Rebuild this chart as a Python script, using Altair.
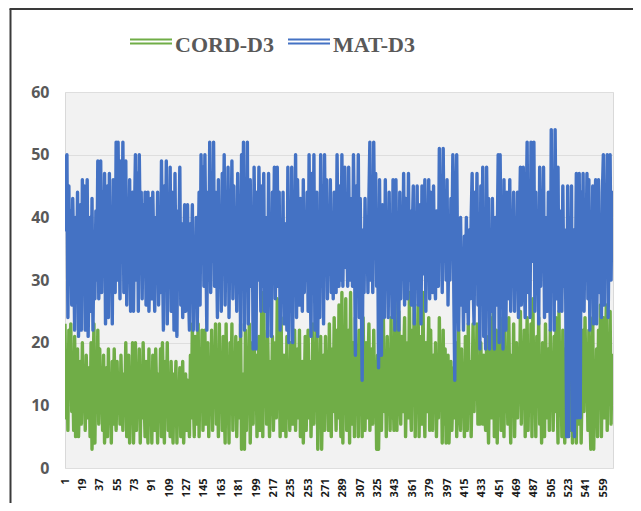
import altair as alt
import pandas as pd

series_names = ["CORD-D3", "MAT-D3"]
series_colors = ["#70AD47", "#4472C4"]

cord_d3 = [
    23, 8, 18, 6, 22, 12, 23, 9, 15, 6, 21, 5, 14, 19, 5, 11, 17, 7,
    20, 10, 15, 6, 18, 12, 8, 16, 5, 20, 3, 13, 23, 4, 18, 9, 22, 7,
    19, 10, 14, 6, 18, 4, 12, 16, 5, 19, 8, 13, 4, 17, 7, 19, 11, 6,
    17, 9, 14, 7, 18, 11, 6, 15, 10, 20, 5, 13, 18, 4, 15, 9, 20, 4,
    12, 20, 6, 16, 10, 19, 4, 14, 8, 20, 11, 5, 17, 9, 4, 19, 7, 14,
    4, 18, 10, 6, 19, 12, 4, 15, 8, 19, 5, 20, 12, 4, 17, 9, 20, 6,
    14, 5, 17, 9, 4, 15, 11, 17, 4, 13, 8, 16, 5, 12, 17, 4, 10, 15,
    6, 14, 9, 5, 18, 8, 23, 11, 5, 21, 7, 16, 23, 5, 19, 10, 22, 6,
    15, 22, 7, 11, 20, 5, 16, 9, 22, 6, 18, 12, 23, 7, 15, 5, 23, 9,
    17, 6, 21, 10, 4, 23, 8, 14, 4, 20, 11, 23, 6, 16, 9, 21, 5, 13,
    20, 8, 23, 3, 15, 10, 3, 22, 6, 17, 11, 23, 4, 14, 20, 7, 23, 10,
    18, 5, 14, 21, 6, 12, 28, 5, 26, 10, 19, 7, 22, 12, 5, 17, 9, 21,
    6, 14, 20, 8, 27, 11, 16, 5, 24, 10, 6, 18, 13, 5, 21, 8, 15, 6,
    20, 11, 7, 18, 22, 6, 13, 19, 8, 22, 5, 14, 17, 4, 12, 21, 6, 15,
    22, 8, 17, 5, 13, 23, 7, 19, 10, 24, 3, 15, 9, 21, 3, 12, 18, 6,
    21, 10, 16, 6, 23, 12, 5, 19, 9, 24, 14, 6, 22, 8, 26, 11, 5, 28,
    4, 18, 10, 27, 6, 15, 22, 4, 28, 12, 7, 20, 5, 24, 11, 17, 5, 22,
    9, 18, 5, 24, 12, 6, 20, 8, 15, 23, 6, 13, 19, 7, 22, 10, 16, 3,
    18, 3, 12, 22, 6, 15, 24, 9, 18, 5, 21, 11, 16, 6, 24, 8, 13, 6,
    27, 10, 6, 19, 25, 12, 7, 21, 9, 17, 24, 5, 14, 20, 8, 28, 11, 6,
    22, 13, 28, 5, 18, 10, 26, 5, 15, 21, 7, 28, 12, 5, 20, 9, 16, 24,
    6, 22, 11, 6, 18, 9, 20, 5, 14, 8, 24, 12, 17, 4, 22, 7, 19, 4,
    13, 18, 4, 10, 17, 6, 12, 16, 8, 20, 5, 14, 22, 10, 6, 19, 9, 15,
    5, 21, 12, 6, 23, 10, 17, 5, 14, 23, 9, 19, 11, 23, 7, 16, 7, 20,
    12, 7, 18, 9, 6, 21, 11, 4, 16, 24, 8, 19, 26, 5, 13, 22, 4, 17,
    10, 24, 6, 19, 13, 5, 22, 9, 16, 7, 24, 12, 4, 18, 10, 23, 5, 14,
    20, 8, 16, 11, 25, 7, 19, 13, 22, 5, 15, 24, 6, 18, 10, 23, 5, 27,
    9, 17, 5, 21, 12, 24, 7, 16, 4, 20, 10, 5, 23, 13, 8, 19, 6, 22,
    11, 17, 6, 21, 9, 24, 13, 4, 25, 10, 18, 5, 22, 14, 4, 19, 8, 15,
    22, 6, 13, 18, 4, 21, 10, 16, 4, 20, 12, 7, 19, 4, 14, 22, 9, 24,
    12, 18, 6, 22, 10, 3, 16, 24, 3, 13, 8, 19, 5, 22, 11, 26, 5, 17,
    24, 8, 14, 26, 6, 20, 11, 25, 7, 18, 10,
]

mat_d3 = [
    50, 38, 50, 24, 45, 30, 41, 26, 43, 35, 22, 40, 28, 44, 21, 36, 42, 22,
    46, 30, 45, 22, 38, 46, 21, 33, 40, 25, 43, 22, 36, 27, 41, 30, 49, 27,
    35, 49, 28, 44, 31, 47, 23, 38, 45, 24, 47, 29, 40, 23, 46, 33, 28, 52,
    30, 52, 38, 27, 49, 34, 52, 28, 43, 49, 26, 40, 33, 46, 25, 38, 44, 25,
    40, 50, 30, 47, 25, 50, 36, 44, 27, 42, 31, 44, 26, 38, 44, 25, 33, 43,
    27, 44, 35, 25, 40, 30, 44, 26, 37, 28, 49, 34, 22, 45, 30, 49, 23, 41,
    33, 48, 25, 44, 38, 22, 47, 30, 21, 41, 35, 48, 26, 39, 24, 33, 42, 25,
    37, 42, 28, 22, 39, 31, 42, 22, 35, 27, 40, 22, 33, 44, 26, 50, 34, 48,
    29, 50, 36, 22, 44, 30, 52, 28, 47, 33, 52, 29, 44, 36, 24, 46, 30, 40,
    25, 47, 34, 50, 26, 42, 31, 48, 24, 40, 35, 49, 27, 45, 30, 37, 25, 47,
    33, 42, 21, 50, 35, 52, 22, 44, 31, 52, 23, 38, 46, 29, 41, 19, 48, 33,
    19, 44, 30, 48, 38, 25, 45, 29, 47, 25, 40, 33, 21, 47, 28, 38, 21, 44,
    31, 48, 27, 40, 48, 29, 44, 22, 36, 28, 44, 23, 39, 30, 22, 48, 20, 37,
    29, 48, 20, 42, 33, 50, 24, 46, 36, 26, 43, 32, 25, 46, 28, 38, 30, 44,
    25, 50, 33, 21, 47, 28, 50, 22, 36, 44, 21, 40, 24, 50, 30, 45, 23, 50,
    34, 46, 27, 40, 31, 46, 28, 38, 27, 44, 33, 28, 50, 36, 29, 45, 30, 50,
    29, 42, 48, 32, 38, 29, 48, 34, 30, 43, 29, 50, 36, 18, 45, 29, 50, 24,
    43, 30, 14, 38, 28, 43, 32, 40, 28, 43, 52, 30, 44, 28, 52, 35, 47, 29,
    40, 16, 46, 30, 18, 42, 35, 24, 46, 31, 40, 24, 44, 28, 37, 24, 46, 33,
    22, 46, 30, 40, 22, 44, 27, 38, 32, 47, 26, 43, 35, 27, 47, 30, 41, 26,
    38, 45, 23, 40, 30, 45, 26, 36, 42, 23, 45, 31, 38, 46, 25, 40, 33, 46,
    27, 44, 35, 28, 45, 30, 27, 41, 34, 29, 51, 36, 45, 28, 51, 33, 42, 30,
    46, 26, 38, 30, 43, 35, 50, 28, 14, 42, 50, 31, 22, 38, 40, 26, 35, 22,
    37, 25, 40, 30, 23, 38, 27, 40, 47, 29, 23, 44, 33, 47, 26, 40, 19, 45,
    30, 48, 21, 40, 19, 48, 33, 43, 19, 36, 25, 43, 30, 19, 40, 26, 36, 50,
    20, 50, 33, 42, 19, 46, 28, 22, 44, 36, 27, 46, 25, 40, 33, 44, 25, 38,
    29, 44, 24, 38, 48, 26, 42, 48, 30, 24, 40, 52, 28, 45, 24, 52, 33, 46,
    52, 25, 44, 30, 38, 23, 48, 29, 42, 35, 48, 24, 40, 31, 25, 44, 36, 22,
    54, 30, 44, 22, 54, 36, 27, 48, 25, 41, 33, 25, 45, 29, 38, 27, 5, 45,
    5, 40, 30, 45, 6, 38, 5, 30, 47, 8, 35, 47, 8, 44, 28, 47, 25, 40,
    33, 47, 27, 46, 22, 40, 30, 45, 23, 38, 46, 23, 34, 46, 28, 40, 24, 44,
    50, 26, 45, 33, 50, 24, 40, 50, 30, 44, 36,
]

x_tick_values = [1, 19, 37, 55, 73, 91, 109, 127, 145, 163, 181, 199, 217, 235,
                 253, 271, 289, 307, 325, 343, 361, 379, 397, 415, 433, 451,
                 469, 487, 505, 523, 541, 559]
y_tick_values = [0, 10, 20, 30, 40, 50, 60]

n_points = max(len(cord_d3), len(mat_d3))

df_cord = pd.DataFrame({"idx": list(range(1, len(cord_d3) + 1)), "value": cord_d3,
                        "series": series_names[0]})
df_mat = pd.DataFrame({"idx": list(range(1, len(mat_d3) + 1)), "value": mat_d3,
                       "series": series_names[1]})

x_enc = alt.X(
    "idx:Q",
    scale=alt.Scale(domain=[1, n_points], nice=False, zero=False),
    axis=alt.Axis(
        values=x_tick_values, title=None, labelAngle=-90, labelFont="Open Sans",
        labelFontSize=11, labelFontWeight="bold", labelColor="#1a1a1a",
        labelPadding=10, ticks=False, tickSize=0, domain=False, grid=False,
        labelOverlap=False, labelBound=False, labelFlush=False,
    ),
)
y_enc = alt.Y(
    "value:Q",
    scale=alt.Scale(domain=[0, 60], nice=False),
    axis=alt.Axis(
        values=y_tick_values, title=None, labelFont="Open Sans", labelFontSize=16,
        labelFontWeight="bold", labelColor="#595959", labelPadding=16,
        ticks=False, tickSize=0, domain=False, grid=True, gridColor="#DEDEDE",
        gridWidth=1,
    ),
)

line_cord = alt.Chart(df_cord).mark_line(
    color=series_colors[0], strokeWidth=3.4, strokeJoin="round", clip=True
).encode(x=x_enc, y=y_enc)

line_mat = alt.Chart(df_mat).mark_line(
    color=series_colors[1], strokeWidth=3.4, strokeJoin="round", clip=True
).encode(x=x_enc, y=y_enc)

# manual legend (double-line symbols)
legend_layers = []
sym_x = [65, 223]
txt_x = [110, 268]
for name, col, sx, tx in zip(series_names, series_colors, sym_x, txt_x):
    ldf = pd.DataFrame({"name": [name]})
    for yy in [-52.5, -48.5]:
        legend_layers.append(
            alt.Chart(ldf).mark_rule(color=col, strokeWidth=2).encode(
                x=alt.value(sx), x2=alt.value(sx + 42), y=alt.value(yy)
            )
        )
    legend_layers.append(
        alt.Chart(ldf).mark_text(
            font="Liberation Serif", fontSize=22, fontWeight="bold",
            color="#595959", align="left", baseline="alphabetic",
        ).encode(text="name:N", x=alt.value(tx), y=alt.value(-40))
    )

# outer chart frame
frame_df = pd.DataFrame({"k": [0]})
frame_left = alt.Chart(frame_df).mark_rule(color="#3a3a3a", strokeWidth=2).encode(
    x=alt.value(-54.5), y=alt.value(-83), y2=alt.value(430)
)
frame_top = alt.Chart(frame_df).mark_rule(color="#3a3a3a", strokeWidth=2).encode(
    x=alt.value(-55.5), x2=alt.value(590), y=alt.value(-83)
)

chart = alt.layer(
    line_cord, line_mat, *legend_layers, frame_left, frame_top
).properties(
    width=548, height=376,
    autosize=alt.AutoSizeParams(type="none"),
    padding={"left": 57, "top": 84, "right": 20, "bottom": 35},
    background="white",
).configure_view(fill="#F2F2F2", stroke="#D9D9D9", strokeWidth=1)

chart.save("out.html", embed_options={"renderer": "svg", "actions": False})
